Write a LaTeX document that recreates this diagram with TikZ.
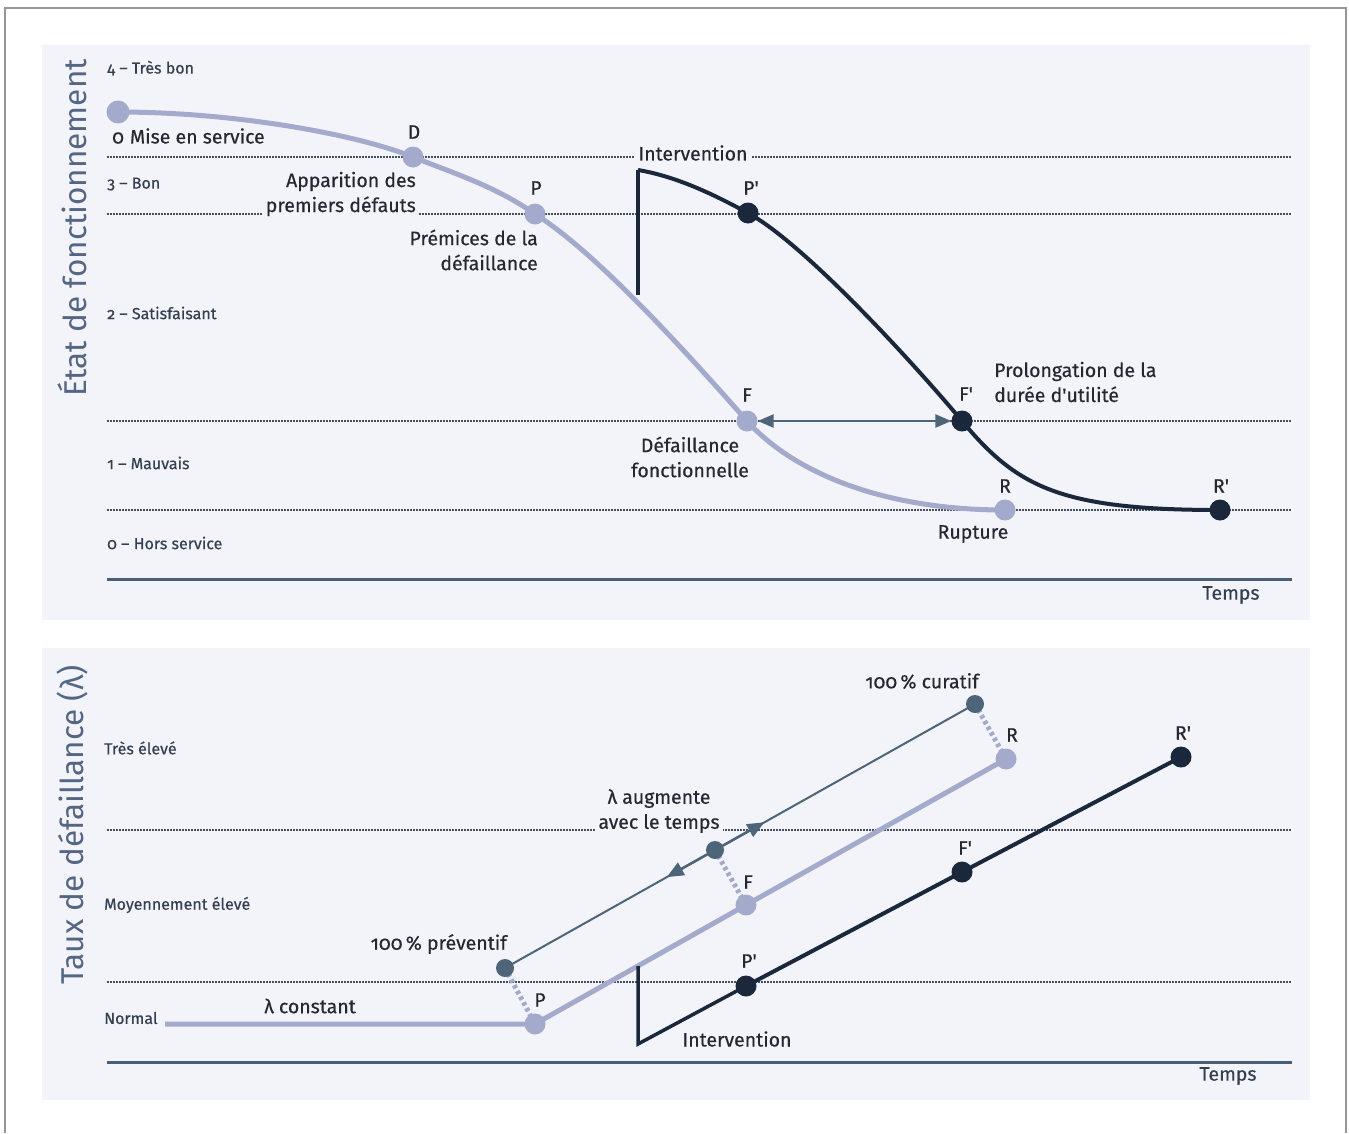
\documentclass[tikz,border=0pt]{standalone}
\usepackage{fontspec}
\setmainfont{Fira Sans}[Numbers=OldStyle]
\newfontfamily\medfont{Fira Sans}[Numbers=OldStyle, FakeBold=0.45]
\usetikzlibrary{arrows.meta,calc}
\definecolor{bgp}{RGB}{243,244,249}
\definecolor{lite}{RGB}{164,170,203}
\definecolor{navy}{RGB}{27,40,60}
\definecolor{midc}{RGB}{78,100,120}
\definecolor{axisc}{RGB}{74,96,118}
\definecolor{txt}{RGB}{36,40,50}
\definecolor{lvl}{RGB}{52,64,82}
\definecolor{ylab}{RGB}{84,102,132}
\definecolor{dotc}{RGB}{70,78,92}
\definecolor{framec}{RGB}{150,150,150}
\newcommand\apos{\char"0027\relax}
\tikzset{
 dotline/.style={dotc, line width=2.2pt, dash pattern=on 1.5pt off 1.5pt},
 axisline/.style={axisc, line width=3pt},
 lbl/.style={txt, font=\medfont\fontsize{19.5}{25}\selectfont, inner sep=1pt},
 lvllbl/.style={lvl, font=\medfont\fontsize{16}{19}\selectfont, anchor=west, inner sep=0pt},
 ylabel/.style={ylab, font=\fontsize{31.5}{34}\selectfont, rotate=90, inner sep=0pt},
 covered/.style={fill=bgp, inner sep=4pt},
 litedot/.style={circle, fill=lite, minimum size=21pt, inner sep=0pt},
 navydot/.style={circle, fill=navy, minimum size=21pt, inner sep=0pt},
 middot/.style={circle, fill=midc, minimum size=18pt, inner sep=0pt},
 litecurve/.style={lite, line width=5pt},
 navycurve/.style={navy, line width=4pt},
 linkdash/.style={lite, line width=5pt, dash pattern=on 3.5pt off 3pt},
 tip/.style={-{Triangle[length=17pt,width=14pt]}, midc, line width=2.5pt},
}
\begin{document}
\begin{tikzpicture}[x=1pt,y=-1pt]
\useasboundingbox (0,0) rectangle (1349,1133);
\fill[white] (0,0) rectangle (1349,1133);
\draw[framec, line width=1.5pt] (5,1133) -- (5,8) -- (1346,8) -- (1346,1133);
% panels
\fill[bgp] (42,45) rectangle (1310,620);
\fill[bgp] (42,648) rectangle (1310,1100);

% ================= TOP PANEL =================
\node[ylabel] (ytop) at (72,228) {État de fonctionnement};
\node[lvllbl] (l4) at (107,68) {4 – Très bon};
\node[lvllbl] (l3) at (107,184) {3 – Bon};
\node[lvllbl] (l2) at (107,313) {2 – Satisfaisant};
\node[lvllbl] (l1) at (107,463) {1 – Mauvais};
\node[lvllbl] (l0) at (107,543) {0 – Hors service};

\draw[dotline] (107,157) -- (1292,157);
\draw[dotline] (107,214) -- (1292,214);
\draw[dotline] (107,421) -- (1292,421);
\draw[dotline] (107,510) -- (1292,510);
\draw[axisline] (107,579) -- (1292,579);
\node[lbl, text=lvl] (temps1) at (1231,595) {Temps};

\node[lbl, covered] (interv1) at (693,153) {Intervention};
\node[lbl, covered, align=right, anchor=east, inner sep=3pt] (appar) at (419,194) {Apparition des\\premiers défauts};

\coordinate (S) at (118,112);
\coordinate (D) at (413,157);
\coordinate (P) at (535,214);
\coordinate (F) at (747,421);
\coordinate (R) at (1005,510);
\coordinate (X) at (638,295);
\coordinate (Xt) at (638,170);
\coordinate (Pp) at (748,213);
\coordinate (Fp) at (962,421);
\coordinate (Rp) at (1220,510);

\draw[litecurve] (S) .. controls (230,112) and (353,133) .. (D)
   .. controls (453,173) and (495,186) .. (P)
   .. controls (597,253) and (687,353) .. (F)
   .. controls (792,471) and (880,510) .. (R);
\draw[navy, line width=3.5pt] (X) -- (Xt);
\draw[navycurve] (Xt) .. controls (680,177) and (720,198) .. (Pp)
   .. controls (808,246) and (922,373) .. (Fp)
   .. controls (1017,487) and (1060,510) .. (Rp);

\node[litedot, minimum size=23pt] (nS) at (S) {};
\node[litedot] (nD) at (D) {};
\node[litedot] (nP) at (P) {};
\node[litedot] (nF) at (F) {};
\node[litedot] (nR) at (R) {};
\node[navydot] (nPp) at (Pp) {};
\node[navydot] (nFp) at (Fp) {};
\node[navydot] (nRp) at (Rp) {};

\draw[{Triangle[length=16pt,width=13pt]}-{Triangle[length=16pt,width=13pt]}, midc, line width=2.5pt] (nF) -- (nFp);

\node[lbl, anchor=west] (mes) at (111,136) {0\hspace{6pt}Mise en service};
\node[lbl] (tD) at (414,132) {D};
\node[lbl] (tP) at (536,188) {P};
\node[lbl, align=right, anchor=east] (prem) at (539,250) {Prémices de la\\défaillance};
\node[lbl] (tF) at (747,395) {F};
\node[lbl, align=center] (defo) at (690,457) {Défaillance\\fonctionnelle};
\node[lbl] (tR) at (1005,486) {R};
\node[lbl] (rupt) at (973,534) {Rupture};
\node[lbl] (tPp) at (751,188) {P\apos};
\node[lbl] (tFp) at (966,394) {F\apos};
\node[lbl] (tRp) at (1221,486) {R\apos};
\node[lbl, align=left, anchor=west] (prol) at (993,382) {Prolongation de la\\durée d\apos utilité};

% ================= BOTTOM PANEL =================
\node[ylabel] (ybot) at (72,825) {Taux de défaillance (λ)};
\node[lvllbl] (b3) at (104,748) {Très élevé};
\node[lvllbl] (b2) at (104,905) {Moyennement élevé};
\node[lvllbl] (b1) at (104,1018) {Normal};

\draw[dotline] (107,830) -- (1292,830);
\draw[dotline] (107,982) -- (1292,982);
\draw[axisline] (107,1062) -- (1292,1062);
\node[lbl, text=lvl] (temps2) at (1228,1076) {Temps};

\node[lbl, covered, align=center, inner sep=3pt] (augm) at (659,811) {λ augmente\\avec le temps};

\coordinate (L0) at (165,1024);
\coordinate (bP) at (535,1024);
\coordinate (bF) at (746,905);
\coordinate (bR) at (1006,759);
\coordinate (prev) at (505,968);
\coordinate (midp) at (715,850);
\coordinate (cura) at (975,704);
\coordinate (bX) at (638,966);
\coordinate (bXb) at (638,1044);
\coordinate (bPp) at (746,986);
\coordinate (bFp) at (962,872);
\coordinate (bRp) at (1181,757);

\draw[litecurve] (L0) -- (bP) -- (bF) -- (bR);
\draw[midc, line width=2pt] (prev) -- (cura);
\draw[linkdash] (prev) -- (bP);
\draw[linkdash] (midp) -- (bF);
\draw[linkdash] (cura) -- (bR);
\draw[navy, line width=3.5pt, line join=miter] (bX) -- (bXb) -- (bPp);
\draw[navycurve] (bPp) -- (bFp) -- (bRp);

\node[middot] (nprev) at (prev) {};
\node[middot] (nmid) at (midp) {};
\node[middot] (ncura) at (cura) {};
\draw[tip] (nmid) -- ($(midp)!0.23!(prev)$);
\draw[tip] (nmid) -- ($(midp)!0.19!(cura)$);

\node[litedot] (nbP) at (bP) {};
\node[litedot] (nbF) at (bF) {};
\node[litedot] (nbR) at (bR) {};
\node[navydot] (nbPp) at (bPp) {};
\node[navydot] (nbFp) at (bFp) {};
\node[navydot] (nbRp) at (bRp) {};

\node[lbl] (lconst) at (310,1006) {λ constant};
\node[lbl, anchor=east] (tprev) at (508,944) {100\,\% préventif};
\node[lbl] (tcura) at (922,681) {100\,\% curatif};
\node[lbl] (tbP) at (540,1000) {P};
\node[lbl] (tbF) at (748,882) {F};
\node[lbl] (tbR) at (1012,735) {R};
\node[lbl] (tbPp) at (749,961) {P\apos};
\node[lbl] (tbFp) at (965,848) {F\apos};
\node[lbl] (tbRp) at (1183,733) {R\apos};
\node[lbl] (interv2) at (737,1039) {Intervention};
\end{tikzpicture}
\end{document}
